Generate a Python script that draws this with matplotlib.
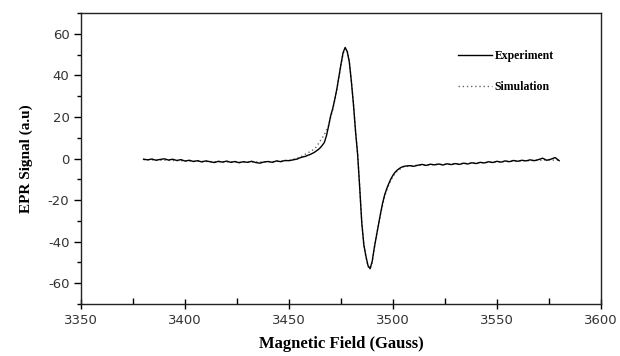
import matplotlib
matplotlib.use("Agg")
import matplotlib.pyplot as plt
from matplotlib.ticker import MultipleLocator

plt.rcParams["axes.unicode_minus"] = False

# ---------------- data ----------------
exp_field_left = [3380, 3382, 3384, 3386, 3388, 3390, 3392, 3394, 3396, 3398,
                  3400, 3402, 3404, 3406, 3408, 3410, 3412, 3414, 3416, 3418,
                  3420, 3422, 3424, 3426, 3428, 3430, 3432, 3434, 3436, 3438,
                  3440, 3442, 3444, 3446, 3448, 3450, 3452, 3454]
exp_signal_left = [-0.3, -0.6, -0.2, -0.8, -0.4, -0.1, -0.7, -0.3, -0.9, -0.5,
                   -1.2, -0.8, -1.4, -1.0, -1.6, -1.1, -1.5, -1.9, -1.3, -1.7,
                   -1.2, -1.8, -1.4, -2.0, -1.5, -1.8, -1.3, -1.9, -2.2, -1.6,
                   -1.4, -1.8, -1.1, -1.5, -0.9, -1.0, -0.6, -0.2]

exp_field_mid = list(range(3455, 3507))
exp_signal_mid = [0.3, 0.6, 0.9, 1.1, 1.6, 1.9, 2.4, 2.9, 3.6, 4.3,
                  5.2, 6.4, 7.8, 11.0, 15.5, 20.5, 24.0, 28.5, 33.5, 39.5,
                  45.5, 51.0, 53.5, 51.5, 46.5, 37.0, 26.0, 13.0, 2.0, -14.0,
                  -31.0, -41.5, -47.0, -51.5, -53.0, -49.5, -43.0, -37.5, -32.0, -26.5,
                  -21.5, -17.5, -14.5, -12.0, -9.8, -8.0, -6.6, -5.6, -4.8, -4.2,
                  -3.8, -3.6]

exp_field_right = [3508, 3510, 3512, 3514, 3516, 3518, 3520, 3522, 3524, 3526,
                   3528, 3530, 3532, 3534, 3536, 3538, 3540, 3542, 3544, 3546,
                   3548, 3550, 3552, 3554, 3556, 3558, 3560, 3562, 3564, 3566,
                   3568, 3570, 3572, 3574, 3576, 3578, 3580]
exp_signal_right = [-3.4, -3.7, -3.2, -2.8, -3.3, -2.7, -3.0, -2.6, -3.1, -2.5,
                    -2.9, -2.4, -2.8, -2.2, -2.6, -2.0, -2.4, -1.8, -2.1, -1.5,
                    -1.9, -1.3, -1.7, -1.1, -1.5, -0.9, -1.3, -0.8, -1.1, -0.6,
                    -1.0, -0.5, 0.2, -0.8, -0.3, 0.5, -1.0]

sim_field = [3380, 3390, 3400, 3410, 3420, 3430, 3440, 3450, 3455, 3458,
             3461, 3463, 3465, 3467, 3469, 3471, 3473, 3475, 3476, 3477,
             3478, 3479, 3480, 3481, 3482, 3483, 3484, 3485, 3486, 3487,
             3488, 3489, 3490, 3491, 3492, 3494, 3496, 3498, 3500, 3502,
             3505, 3510, 3520, 3530, 3540, 3550, 3560, 3570, 3580]
sim_signal = [-0.5, -0.8, -1.1, -1.4, -1.6, -1.7, -1.6, -0.9, 0.5, 2.2,
              3.8, 5.5, 8.5, 11.5, 16.0, 23.5, 33.0, 45.0, 50.5, 53.0,
              52.0, 47.0, 37.5, 26.5, 13.5, 2.5, -13.5, -30.5, -42.0, -47.5,
              -52.0, -53.0, -50.0, -43.5, -37.0, -27.0, -18.0, -12.5, -8.5, -6.0,
              -4.0, -3.3, -2.9, -2.5, -2.1, -1.6, -1.2, -0.8, -0.7]

exp_field = exp_field_left + exp_field_mid + exp_field_right
exp_signal = exp_signal_left + exp_signal_mid + exp_signal_right

# ---------------- figure ----------------
fig = plt.figure(figsize=(6.2, 3.56), dpi=100)
ax = fig.add_axes([0.131, 0.146, 0.838, 0.817])

ax.plot(sim_field, sim_signal, linestyle=(0, (1, 2)), color="#666666",
        linewidth=1.0, label="Simulation", zorder=2)
ax.plot(exp_field, exp_signal, color="black", linewidth=1.0,
        label="Experiment", zorder=3)

ax.set_xlim(3350, 3600)
ax.set_ylim(-70, 70)
ax.xaxis.set_major_locator(MultipleLocator(50))
ax.xaxis.set_minor_locator(MultipleLocator(25))
ax.yaxis.set_major_locator(MultipleLocator(20))
ax.yaxis.set_minor_locator(MultipleLocator(10))

ax.tick_params(axis="x", which="major", direction="inout", length=7, width=1)
ax.tick_params(axis="x", which="minor", direction="in", length=4, width=1)
ax.tick_params(axis="y", which="major", direction="out", length=5, width=1)
ax.tick_params(axis="y", which="minor", direction="out", length=3, width=1)
for lbl in ax.get_xticklabels() + ax.get_yticklabels():
    lbl.set_fontfamily("DejaVu Sans")
    lbl.set_fontsize(9.5)
    lbl.set_color("#333333")
for s in ax.spines.values():
    s.set_linewidth(1.0)
    s.set_color("#222222")

ax.set_xlabel("Magnetic Field (Gauss)", fontfamily="Liberation Serif",
              fontweight="bold", fontsize=12, labelpad=7)
ax.set_ylabel("EPR Signal (a.u)", fontfamily="Liberation Serif",
              fontweight="bold", fontsize=11, labelpad=11)

handles, labels = ax.get_legend_handles_labels()
leg = ax.legend(handles[::-1], labels[::-1], loc="upper left",
                bbox_to_anchor=(0.705, 0.91), frameon=False,
                handlelength=2.9, handletextpad=0.2, labelspacing=1.6,
                prop={"family": "Liberation Serif", "weight": "bold", "size": 8.5})

fig.savefig("out.png", dpi=100)
